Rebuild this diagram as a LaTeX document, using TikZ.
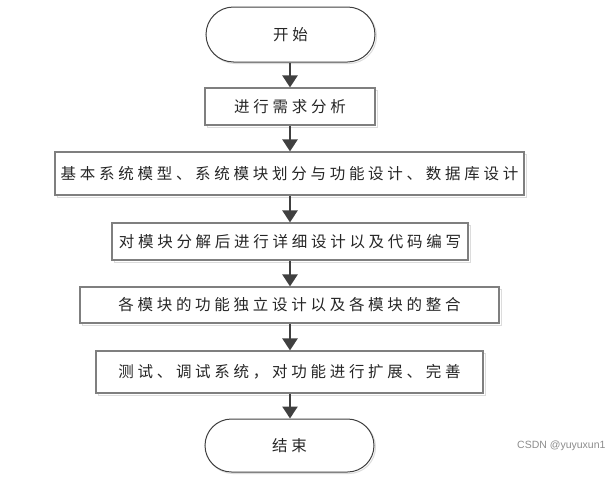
\documentclass[tikz,border=0pt]{standalone}
\usepackage{fontspec}
\newfontfamily\cjk{Noto Sans CJK SC}[LetterSpace=24]
\setsansfont{Liberation Sans}
\usetikzlibrary{arrows.meta}
\definecolor{arrowc}{HTML}{404040}
\definecolor{boxc}{HTML}{7F7F7F}
\definecolor{shadowc}{HTML}{DCDCDC}
\definecolor{textc}{HTML}{262626}
\tikzset{
  stepbox/.style={draw=boxc, line width=1.2pt, fill=white, inner sep=0pt,
    font=\cjk\fontsize{15.5}{18}\selectfont, text=textc,
    preaction={draw=shadowc, line width=1pt, transform canvas={xshift=2pt,yshift=-2pt}}},
  termbox/.style={draw=arrowc, line width=1pt, fill=white, inner sep=0pt,
    font=\cjk\fontsize{15.5}{18}\selectfont, text=textc,
    preaction={draw=shadowc, line width=1pt, transform canvas={xshift=1.5pt,yshift=-1.5pt}}},
  arr/.style={draw=arrowc, line width=2.6pt, -{Triangle[width=15pt,length=12pt]}}
}
\begin{document}
\begin{tikzpicture}[x=1pt,y=-1pt]
\useasboundingbox (0,0) rectangle (611,485);
\coordinate (ax) at (290,0);
\node[termbox, minimum width=169pt, minimum height=55pt, rounded corners=27.5pt] (start) at (290.5,34.5) {开始};
\node[stepbox, minimum width=170pt, minimum height=37pt] (b1) at (290,106.5) {进行需求分析};
\node[stepbox, minimum width=469pt, minimum height=43pt] (b2) at (289.5,173.5) {基本系统模型、系统模块划分与功能设计、数据库设计};
\node[stepbox, minimum width=356pt, minimum height=37pt] (b3) at (290,241.5) {对模块分解后进行详细设计以及代码编写};
\node[stepbox, minimum width=419pt, minimum height=36pt] (b4) at (289.5,305) {各模块的功能独立设计以及各模块的整合};
\node[stepbox, minimum width=387pt, minimum height=42pt] (b5) at (289.5,372) {测试、调试系统，对功能进行扩展、完善};
\node[termbox, minimum width=169pt, minimum height=53pt, rounded corners=26.5pt] (end) at (289.5,445.5) {结束};
\draw[arr] (start.south -| ax) -- (b1.north -| ax);
\draw[arr] (b1.south -| ax) -- (b2.north -| ax);
\draw[arr] (b2.south -| ax) -- (b3.north -| ax);
\draw[arr] (b3.south -| ax) -- (b4.north -| ax);
\draw[arr] (b4.south -| ax) -- (b5.north -| ax);
\draw[arr] (b5.south -| ax) -- (end.north -| ax);
\node[font=\sffamily\fontsize{10.5}{12}\selectfont, text=black!45, anchor=east] (wm) at (609,446) {CSDN @yuyuxun1};
\end{tikzpicture}
\end{document}
